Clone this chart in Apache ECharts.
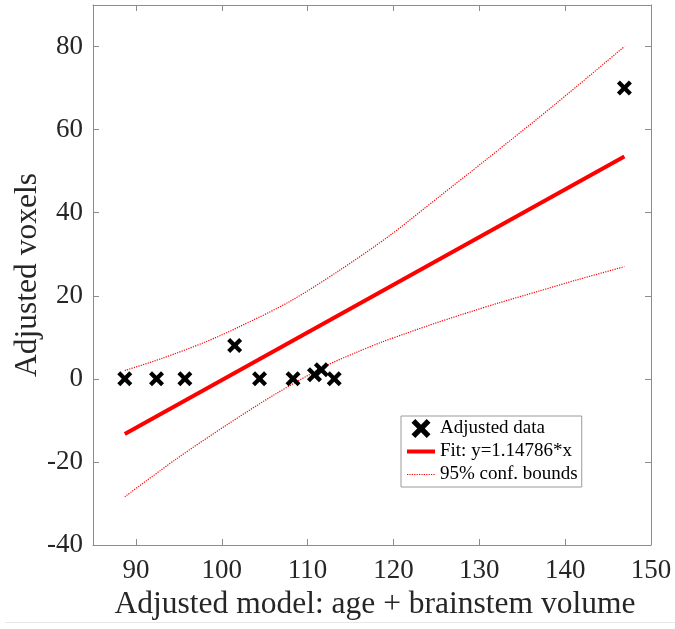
<!DOCTYPE html>
<html><head><meta charset="utf-8">
<script src="https://cdn.jsdelivr.net/npm/echarts@6/dist/echarts.min.js"></script>
<style>html,body{margin:0;padding:0;background:#fff}#c{width:675px;height:629px}</style>
</head><body><div id="c"></div>
<script>
// Adjusted data points
const dataX = [88.7, 92.4, 95.7, 101.5, 104.4, 108.3, 110.8, 111.6, 113.1, 146.9];
const dataY = [0, 0, 0, 8, 0, 0, 1, 2.2, 0, 70];
// Fit line endpoints
const fitX = [88.7, 146.9];
const fitY = [-13.3, 53.5];
// 95% confidence bounds
const upperX = [88.7, 93.0, 98.0, 102.1, 107.9, 113.7, 119.5, 125.3, 130.7, 138.9, 146.9];
const upperY = [2.0, 4.9, 8.8, 12.6, 18.6, 26.1, 34.4, 43.8, 52.6, 66.2, 80.0];
const lowerX = [88.7, 94.7, 100.5, 106.3, 112.1, 115.6, 118.7, 121.4, 125.3, 129.2, 132.3, 136.9, 141.5, 146.9];
const lowerY = [-28.4, -19.3, -11.2, -3.6, 3.1, 6.3, 8.9, 10.9, 13.7, 16.3, 18.3, 21.1, 23.9, 27.0];
// Ticks
const xTicks = [90, 100, 110, 120, 130, 140, 150];
const yTicks = [-40, -20, 0, 20, 40, 60, 80];
// Texts
const xName = 'Adjusted model: age + brainstem volume';
const yName = 'Adjusted voxels';
const nameData = 'Adjusted data';
const nameFit = 'Fit: y=1.14786*x';
const nameBounds = '95% conf. bounds';

const FONT = 'Liberation Serif';
const AX = '#8c8c8c';
const XPATH = 'path://M2,0L5,3L8,0L10,2L7,5L10,8L8,10L5,7L2,10L0,8L3,5L0,2Z';

const zip = (a, b) => a.map((v, i) => [v, b[i]]);

const axisCommon = {
  type: 'value',
  splitLine: { show: false },
  axisLine: { show: true, onZero: false, lineStyle: { color: AX, width: 1 } },
};

const chart = echarts.init(document.getElementById('c'));
chart.setOption({
  animation: false,
  backgroundColor: '#fff',
  grid: { left: 93, top: 5, right: 24, bottom: 84 },
  xAxis: [
    Object.assign({}, axisCommon, {
      position: 'bottom', min: 85, max: 150,
      axisTick: { show: true, inside: true, length: 6, customValues: xTicks, lineStyle: { color: AX } },
      axisLabel: { customValues: xTicks, fontSize: 27, color: '#262626', fontFamily: FONT, margin: 12 },
      name: xName, nameLocation: 'middle', nameGap: 44, nameMoveOverlap: false,
      nameTextStyle: { fontSize: 31.5, color: '#262626', fontFamily: FONT, padding: [0, 0, 0, 6] }
    }),
    Object.assign({}, axisCommon, {
      position: 'top', min: 85, max: 150,
      axisTick: { show: true, inside: true, length: 6, customValues: xTicks, lineStyle: { color: AX } },
      axisLabel: { show: false }
    })
  ],
  yAxis: [
    Object.assign({}, axisCommon, {
      position: 'left', min: -40, max: 90,
      axisTick: { show: true, inside: true, length: 6, customValues: yTicks, lineStyle: { color: AX } },
      axisLabel: { customValues: yTicks, fontSize: 27, color: '#262626', fontFamily: FONT, margin: 10 },
      name: yName, nameLocation: 'middle', nameGap: 49, nameMoveOverlap: false,
      nameTextStyle: { fontSize: 31.5, color: '#262626', fontFamily: FONT }
    }),
    Object.assign({}, axisCommon, {
      position: 'right', min: -40, max: 90,
      axisTick: { show: true, inside: true, length: 6, customValues: yTicks, lineStyle: { color: AX } },
      axisLabel: { show: false }
    })
  ],
  legend: {
    left: 401, top: 416, orient: 'vertical',
    padding: [3, 4, 3, 4], itemGap: 4, itemWidth: 28, itemHeight: 19,
    borderColor: '#9a9a9a', borderWidth: 1, backgroundColor: '#fff',
    textStyle: { fontSize: 19, fontFamily: FONT, color: '#000', lineHeight: 19 },
    data: [
      { name: nameData, icon: XPATH, itemStyle: { color: '#000', opacity: 1 } },
      { name: nameFit, itemStyle: { opacity: 0 }, lineStyle: { color: '#ff0000', width: 4 } },
      { name: nameBounds, itemStyle: { opacity: 0 }, lineStyle: { color: '#ff0000', width: 1.2, type: [1.2, 1.2] } }
    ]
  },
  series: [
    {
      name: nameBounds, type: 'line', data: zip(upperX, upperY), symbol: 'none', smooth: 0.3,
      color: '#ff0000', itemStyle: { opacity: 0 },
      lineStyle: { color: '#ff0000', width: 1.2, type: [1.2, 1.2], opacity: 1 }, z: 2
    },
    {
      name: nameBounds, type: 'line', data: zip(lowerX, lowerY), symbol: 'none', smooth: 0.3,
      color: '#ff0000', itemStyle: { opacity: 0 },
      lineStyle: { color: '#ff0000', width: 1.2, type: [1.2, 1.2], opacity: 1 }, z: 2
    },
    {
      name: nameFit, type: 'line', data: zip(fitX, fitY), symbol: 'none',
      color: '#ff0000', itemStyle: { opacity: 0 },
      lineStyle: { color: '#ff0000', width: 4, opacity: 1 }, z: 3
    },
    {
      name: nameData, type: 'scatter', data: zip(dataX, dataY), symbol: XPATH, symbolSize: 15,
      itemStyle: { color: '#000', opacity: 1 }, z: 5
    }
  ],
  graphic: [
    { type: 'line', shape: { x1: 5, y1: 622.5, x2: 675, y2: 622.5 }, style: { stroke: '#e8e8e8', lineWidth: 1 } }
  ]
});
</script>
</body></html>
